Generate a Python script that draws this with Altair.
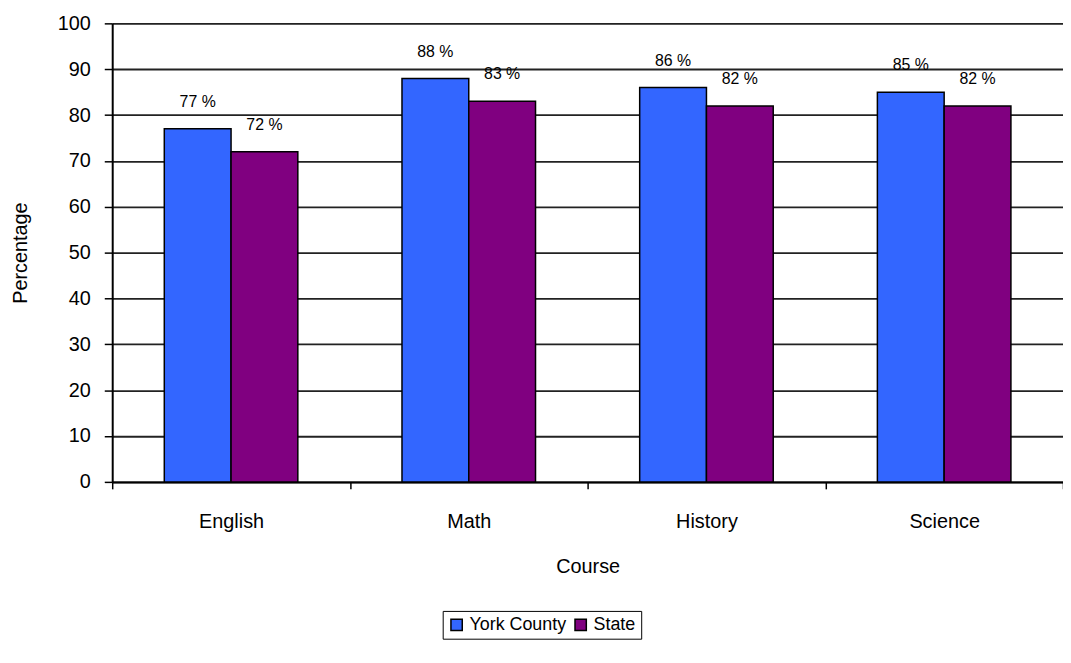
import altair as alt
import pandas as pd

courses = ["English", "Math", "History", "Science"]
york = [77, 88, 86, 85]
state = [72, 83, 82, 82]
series = ["York County", "State"]
colors = ["#3366FF", "#800080"]

rows = []
for c, y, s in zip(courses, york, state):
    rows.append({"Course": c, "Series": series[0], "Value": y, "Label": f"{y} %"})
    rows.append({"Course": c, "Series": series[1], "Value": s, "Label": f"{s} %"})
df = pd.DataFrame(rows)

FONT = "Liberation Sans"

x = alt.X("Course:N", sort=courses, title="Course",
          scale=alt.Scale(paddingInner=0, paddingOuter=0),
          axis=alt.Axis(labelAngle=0, tickBand="extent", tickSize=7, tickColor="black",
                        tickWidth=1.5, domainColor="black", domainWidth=2,
                        labelFont=FONT, labelFontSize=20, labelColor="black",
                        labelPadding=23, titleFont=FONT, titleFontSize=20,
                        titleFontWeight="normal", titleColor="black", titlePadding=25))
xo = alt.XOffset("Series:N", sort=series,
                 scale=alt.Scale(paddingInner=0, paddingOuter=0.78))
y = alt.Y("Value:Q", title="Percentage",
          scale=alt.Scale(domain=[0, 100], nice=False),
          axis=alt.Axis(values=list(range(0, 101, 10)), tickSize=8, tickColor="black",
                        tickWidth=1.5, domainColor="black", domainWidth=2,
                        grid=True, gridColor="#222222", gridWidth=1.8,
                        labelFont=FONT, labelFontSize=20, labelColor="black",
                        labelPadding=14, titleFont=FONT, titleFontSize=20,
                        titleFontWeight="normal", titleColor="black", titlePadding=27))
color = alt.Color("Series:N", sort=series,
                  scale=alt.Scale(domain=series, range=colors),
                  legend=alt.Legend(title=None, orient="none", legendX=333, legendY=592,
                                    direction="horizontal", symbolType="square",
                                    symbolSize=130, symbolStrokeColor="black",
                                    symbolStrokeWidth=1.5, labelFont=FONT,
                                    labelFontSize=18, labelColor="black",
                                    strokeColor="black", padding=5, columnPadding=5,
                                    labelOffset=4))

base = alt.Chart(df).encode(x=x, xOffset=xo)
bars = base.mark_bar(stroke="black", strokeWidth=1.5).encode(y=y, color=color)
labels = base.mark_text(baseline="bottom", dy=-19, font=FONT, fontSize=16,
                        color="black").encode(y="Value:Q", text="Label:N")

chart = (bars + labels).properties(
    width=958, height=462,
    autosize=alt.AutoSizeParams(type="none"),
    padding={"left": 105, "top": 13, "right": 0, "bottom": 180},
).configure_view(stroke=None).configure(background="white")

chart.save("out.html", embed_options={"renderer": "svg", "actions": False})
